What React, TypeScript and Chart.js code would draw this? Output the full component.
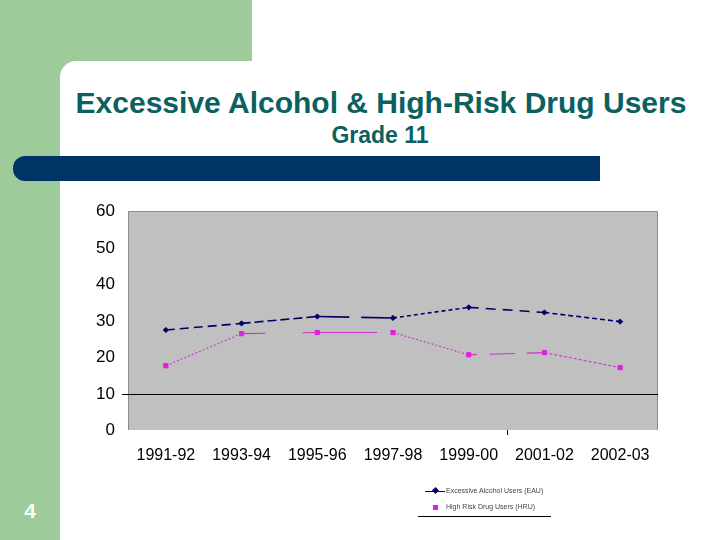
import React, { useEffect, useRef } from "react";
import { Chart, registerables } from "chart.js";

Chart.register(...registerables);

const categories = ["1991-92", "1993-94", "1995-96", "1997-98", "1999-00", "2001-02", "2002-03"];
const eauValues = [27.4, 29.2, 31.1, 30.7, 33.6, 32.2, 29.7];
const hruValues = [17.6, 26.4, 26.7, 26.7, 20.6, 21.2, 17.1];
const eauLabel = "Excessive Alcohol Users (EAU)";
const hruLabel = "High Risk Drug Users (HRU)";
const yMin = 0;
const yMax = 60;
const yStep = 10;
const refLineValue = 10;

const eauDash: number[][] = [[9, 5], [9, 4], [32, 12, 40, 0], [4, 3], [10, 7], [5, 3]];
const hruDash: number[][] = [[2, 2], [24, 37, 30, 0], [60, 16], [2, 2], [8, 13, 25, 12, 30, 0], [3, 2]];

const FONT = "'Liberation Sans', Arial, sans-serif";

const plotPlugin = {
  id: "plotDeco",
  beforeDraw(chart: any) {
    const { ctx, chartArea } = chart;
    const { left, top, right, bottom } = chartArea;
    ctx.save();
    ctx.fillStyle = "#C0C0C0";
    ctx.fillRect(left, top, right - left, bottom - top);
    ctx.strokeStyle = "#8C8C8C";
    ctx.lineWidth = 1;
    ctx.beginPath();
    ctx.moveTo(left + 0.5, bottom);
    ctx.lineTo(left + 0.5, top + 0.5);
    ctx.lineTo(right - 0.5, top + 0.5);
    ctx.lineTo(right - 0.5, bottom);
    ctx.stroke();
    ctx.restore();
  },
  beforeDatasetsDraw(chart: any) {
    const { ctx, chartArea, scales } = chart;
    const y = Math.round(scales.y.getPixelForValue(refLineValue)) + 0.5;
    ctx.save();
    ctx.strokeStyle = "#000";
    ctx.lineWidth = 1;
    ctx.beginPath();
    ctx.moveTo(chartArea.left - 6, y);
    ctx.lineTo(chartArea.right, y);
    ctx.stroke();
    const tx = Math.round((scales.x.getPixelForValue(4) + scales.x.getPixelForValue(5)) / 2) + 0.5;
    ctx.beginPath();
    ctx.moveTo(tx, chartArea.bottom);
    ctx.lineTo(tx, chartArea.bottom + 5);
    ctx.stroke();
    ctx.restore();
  },
};

function ChartCanvas() {
  const ref = useRef<HTMLCanvasElement | null>(null);
  useEffect(() => {
    if (!ref.current) return;
    const chart = new Chart(ref.current, {
      type: "line",
      data: {
        labels: categories,
        datasets: [
          {
            label: eauLabel,
            data: eauValues,
            borderColor: "#000066",
            backgroundColor: "#000066",
            borderWidth: 1.6,
            pointStyle: "rectRot",
            pointRadius: 2.6,
            pointBorderWidth: 1,
            fill: false,
            segment: { borderDash: (c: any) => eauDash[c.p0DataIndex] },
          },
          {
            label: hruLabel,
            data: hruValues,
            borderColor: "#CC33CC",
            backgroundColor: "#E020E0",
            borderWidth: 1.1,
            pointStyle: "rect",
            pointRadius: 3,
            pointBorderColor: "#E020E0",
            pointBorderWidth: 1,
            fill: false,
            segment: { borderDash: (c: any) => hruDash[c.p0DataIndex] },
          },
        ],
      },
      options: {
        animation: false,
        responsive: false,
        layout: { padding: { left: 68, right: 62, top: 211, bottom: 50 } },
        plugins: { legend: { display: false }, tooltip: { enabled: false } },
        scales: {
          x: {
            offset: true,
            grid: { display: false, drawTicks: false },
            border: { display: false },
            ticks: {
              font: { family: FONT, size: 16 },
              color: "#000",
              padding: 16,
              maxRotation: 0,
              autoSkip: false,
            },
            afterFit: (s: any) => {
              s.height = 60;
            },
          },
          y: {
            min: yMin,
            max: yMax,
            grid: { display: false, drawTicks: false },
            border: { display: false },
            ticks: {
              stepSize: yStep,
              font: { family: FONT, size: 17 },
              color: "#000",
              padding: 13,
              labelOffset: 0.5,
            },
            afterFit: (s: any) => {
              s.width = 60;
            },
          },
        },
      },
      plugins: [plotPlugin],
    } as any);
    return () => chart.destroy();
  }, []);
  return (
    <canvas
      ref={ref}
      width={720}
      height={540}
      style={{ position: "absolute", left: 0, top: 0, width: 720, height: 540 }}
    />
  );
}

export default function App() {
  const green = "#9DCB9A";
  return (
    <div
      style={{
        position: "fixed",
        left: 0,
        top: 0,
        width: 720,
        height: 540,
        background: "#fff",
        overflow: "hidden",
        fontFamily: FONT,
      }}
    >
      <div style={{ position: "absolute", left: 0, top: 0, width: 252, height: 61, background: green }} />
      <div style={{ position: "absolute", left: 0, top: 0, width: 60, height: 540, background: green }} />
      <div style={{ position: "absolute", left: 60, top: 61, width: 20, height: 20, background: green }} />
      <div
        style={{
          position: "absolute",
          left: 60,
          top: 61,
          width: 40,
          height: 40,
          background: "#fff",
          borderTopLeftRadius: 16,
        }}
      />
      <div
        style={{
          position: "absolute",
          left: 0,
          top: 88,
          width: 762,
          textAlign: "center",
          fontSize: 30,
          lineHeight: "30px",
          fontWeight: "bold",
          color: "#0B6060",
          whiteSpace: "nowrap",
        }}
      >
        Excessive Alcohol &amp; High-Risk Drug Users
      </div>
      <div
        style={{
          position: "absolute",
          left: 0,
          top: 124,
          width: 760,
          textAlign: "center",
          fontSize: 23,
          lineHeight: "23px",
          fontWeight: "bold",
          color: "#0B6060",
          whiteSpace: "nowrap",
        }}
      >
        Grade 11
      </div>
      <div
        style={{
          position: "absolute",
          left: 13,
          top: 156,
          width: 587,
          height: 25,
          background: "#003366",
          borderTopLeftRadius: 12,
          borderBottomLeftRadius: 12,
        }}
      />
      <div
        style={{
          position: "absolute",
          left: 20,
          top: 500,
          width: 20,
          textAlign: "center",
          fontSize: 21,
          lineHeight: "21px",
          fontWeight: "bold",
          color: "#fff",
        }}
      >
        4
      </div>
      <ChartCanvas />
      <div style={{ position: "absolute", left: 425, top: 491, width: 20, height: 1, background: "#000066" }} />
      <div
        style={{
          position: "absolute",
          left: 433,
          top: 488,
          width: 5,
          height: 5,
          background: "#000066",
          transform: "rotate(45deg)",
        }}
      />
      <div style={{ position: "absolute", left: 433, top: 505, width: 5, height: 5, background: "#E020E0" }} />
      <div
        style={{
          position: "absolute",
          left: 446,
          top: 487,
          fontSize: 7,
          lineHeight: "8px",
          color: "#444",
          whiteSpace: "nowrap",
        }}
      >
        {eauLabel}
      </div>
      <div
        style={{
          position: "absolute",
          left: 446,
          top: 503,
          fontSize: 7,
          lineHeight: "8px",
          color: "#444",
          whiteSpace: "nowrap",
        }}
      >
        {hruLabel}
      </div>
      <div style={{ position: "absolute", left: 418, top: 516, width: 133, height: 1, background: "#000" }} />
    </div>
  );
}
